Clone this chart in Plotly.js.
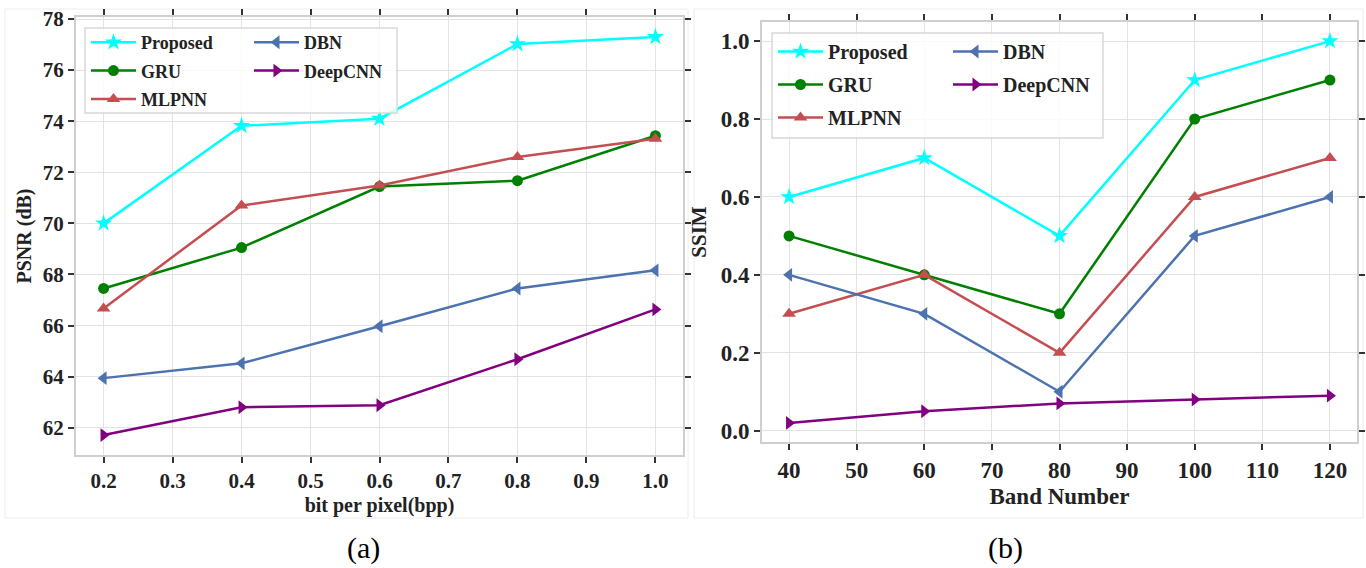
<!DOCTYPE html>
<html>
<head>
<meta charset="utf-8">
<script src="https://cdn.plot.ly/plotly-3.0.1.min.js"></script>
<style>html,body{margin:0;padding:0;background:#fff;}#chart{width:1366px;height:568px;}</style>
</head>
<body>
<div id="chart"></div>
<script>
// ---- data ----
const seriesNames = ["Proposed", "GRU", "MLPNN", "DBN", "DeepCNN"];
const bpp = [0.2, 0.4, 0.6, 0.8, 1.0];
const psnrProposed = [70.0, 73.82, 74.1, 77.02, 77.3];
const psnrGRU = [67.45, 69.05, 71.44, 71.67, 73.43];
const psnrMLPNN = [66.67, 70.7, 71.48, 72.6, 73.31];
const psnrDBN = [63.94, 64.52, 65.97, 67.45, 68.16];
const psnrDeepCNN = [61.71, 62.8, 62.88, 64.68, 66.63];

const bands = [40, 60, 80, 100, 120];
const ssimProposed = [0.6, 0.7, 0.5, 0.9, 1.0];
const ssimGRU = [0.5, 0.4, 0.3, 0.8, 0.9];
const ssimMLPNN = [0.3, 0.4, 0.2, 0.6, 0.7];
const ssimDBN = [0.4, 0.3, 0.1, 0.5, 0.6];
const ssimDeepCNN = [0.02, 0.05, 0.07, 0.08, 0.09];

const xTitleA = "bit per pixel(bpp)", yTitleA = "PSNR (dB)";
const xTitleB = "Band Number", yTitleB = "SSIM";
const captions = ["(a)", "(b)"];

// ---- styles ----
const colors = ["#00ffff", "#008000", "#c44e52", "#4c72b0", "#800080"];
const symbols = ["star", "circle", "triangle-up", "triangle-left", "triangle-right"];
const msizes = [13, 11, 12, 12, 12];
const W = 1366, H = 568;
const px = v => v / W, py = v => 1 - v / H;
const serif = "Liberation Serif, Times New Roman, serif";

const psnr = [psnrProposed, psnrGRU, psnrMLPNN, psnrDBN, psnrDeepCNN];
const ssim = [ssimProposed, ssimGRU, ssimMLPNN, ssimDBN, ssimDeepCNN];
// legend columns: first three in column 1, last two in column 2
const legA = ["legend", "legend", "legend", "legend2", "legend2"];
const legB = ["legend3", "legend3", "legend3", "legend4", "legend4"];

const traces = [];
seriesNames.forEach((n, i) => {
  traces.push({x: bpp, y: psnr[i], name: n, type: "scatter", mode: "lines+markers",
    xaxis: "x", yaxis: "y", legend: legA[i], legendgroup: "a" + i,
    line: {color: colors[i], width: 2.5},
    marker: {symbol: symbols[i], size: msizes[i], color: colors[i]}});
});
seriesNames.forEach((n, i) => {
  traces.push({x: bands, y: ssim[i], name: n, type: "scatter", mode: "lines+markers",
    xaxis: "x2", yaxis: "y2", legend: legB[i], legendgroup: "b" + i,
    line: {color: colors[i], width: 2.5},
    marker: {symbol: symbols[i], size: msizes[i], color: colors[i]}});
});

function axis(extra, fs) {
  return Object.assign({
    showline: true, linecolor: "#cfcfcf", linewidth: 2, mirror: "ticks",
    ticks: "outside", ticklen: 6, tickwidth: 2, tickcolor: "#333",
    showgrid: true, gridcolor: "#e3e3e3", gridwidth: 1, zeroline: false,
    tickfont: {family: serif, size: fs, color: "#222", weight: "bold"}
  }, extra);
}
function legendAt(x, y, fs, gap) {
  return {x: px(x), y: py(y), xanchor: "left", yanchor: "top", bgcolor: "rgba(0,0,0,0)",
    borderwidth: 0, font: {family: serif, size: fs, color: "#222", weight: "bold"},
    tracegroupgap: gap, itemwidth: 45};
}

const layout = {
  width: W, height: H, margin: {l: 0, r: 0, t: 0, b: 0},
  paper_bgcolor: "#fff", plot_bgcolor: "#fff", showlegend: true,
  xaxis: axis({domain: [px(76), px(683)], range: [0.16, 1.04], dtick: 0.1, tick0: 0, tickformat: ".1f", anchor: "y",
    title: {text: xTitleA, font: {family: serif, size: 20, color: "#222", weight: "bold"}, standoff: 6}}, 21),
  yaxis: axis({domain: [py(455), py(17)], range: [60.93, 78.08], dtick: 2, tick0: 0, anchor: "x",
    title: {text: yTitleA, font: {family: serif, size: 20, color: "#222", weight: "bold"}, standoff: 6}}, 21),
  xaxis2: axis({domain: [px(762), px(1357)], range: [36, 124], dtick: 10, tick0: 0, anchor: "y2",
    title: {text: xTitleB, font: {family: serif, size: 23, color: "#222", weight: "bold"}, standoff: 6}}, 23),
  yaxis2: axis({domain: [py(442), py(22)], range: [-0.029, 1.049], dtick: 0.2, tick0: 0, tickformat: ".1f", anchor: "x2",
    title: {text: yTitleB, font: {family: serif, size: 21, color: "#222", weight: "bold"}, standoff: 8}}, 23),
  legend: legendAt(86, 24, 18, 2),
  legend2: legendAt(249, 24, 18, 2),
  legend3: legendAt(773, 32, 20, 4),
  legend4: legendAt(948, 32, 20, 4),
  shapes: [
    {type: "rect", xref: "paper", yref: "paper", x0: px(5), x1: px(688), y0: py(518), y1: py(9),
     line: {color: "#ececec", width: 1}, fillcolor: "rgba(0,0,0,0)", layer: "below"},
    {type: "rect", xref: "paper", yref: "paper", x0: px(694), x1: px(1363), y0: py(518), y1: py(9),
     line: {color: "#ececec", width: 1}, fillcolor: "rgba(0,0,0,0)", layer: "below"},
    {type: "rect", xref: "paper", yref: "paper", x0: px(85), x1: px(397), y0: py(113), y1: py(28),
     line: {color: "#d8d8d8", width: 1.5}, fillcolor: "rgba(255,255,255,0.8)", layer: "above"},
    {type: "rect", xref: "paper", yref: "paper", x0: px(772), x1: px(1103), y0: py(138), y1: py(33),
     line: {color: "#d8d8d8", width: 1.5}, fillcolor: "rgba(255,255,255,0.8)", layer: "above"}
  ],
  annotations: [
    {text: captions[0], xref: "paper", yref: "paper", x: px(345), y: py(548), yanchor: "middle", showarrow: false,
     font: {family: serif, size: 30, color: "#000"}},
    {text: captions[1], xref: "paper", yref: "paper", x: px(1025), y: py(548), yanchor: "middle", showarrow: false,
     font: {family: serif, size: 30, color: "#000"}}
  ]
};

Plotly.newPlot("chart", traces, layout, {staticPlot: true, displayModeBar: false});
</script>
</body>
</html>
